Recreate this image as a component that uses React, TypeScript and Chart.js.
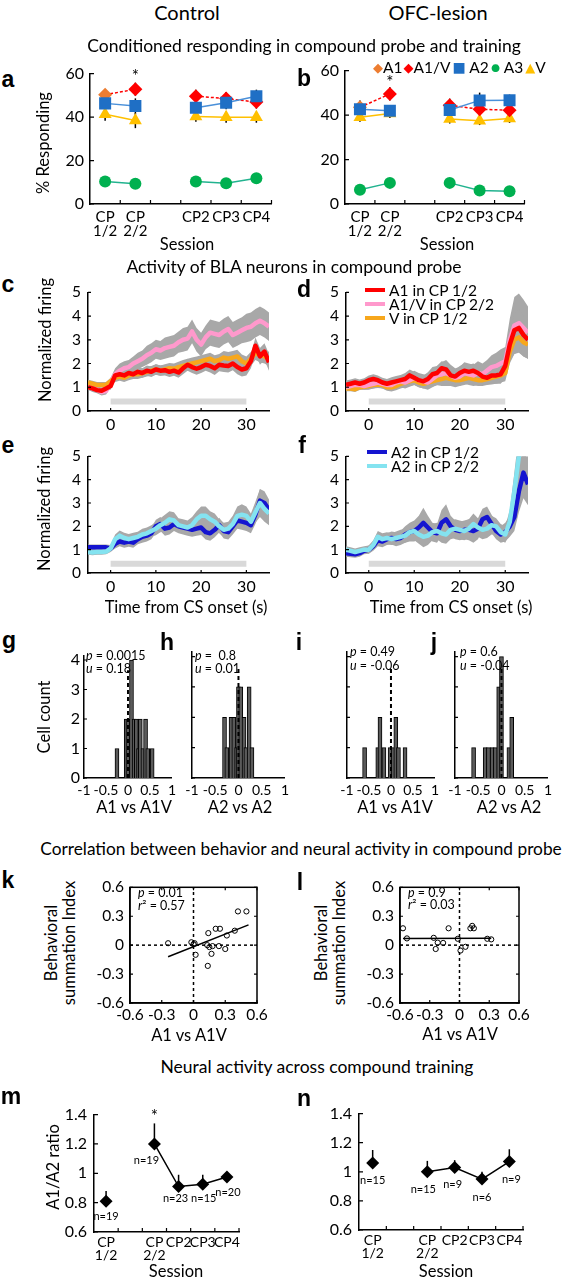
import React, { useEffect, useRef } from 'react';
import { Chart, registerables } from 'chart.js';

Chart.register(...registerables);

const FONT = 'Lato, "Open Sans", "DejaVu Sans", sans-serif';
const LETTER_FONT = '"Liberation Sans", Arial, sans-serif';

const RED = '#FF0000';
const ORANGE = '#ED7D31';
const BLUE = '#1F6FC5';
const BLUE_LINE = '#4A90D9';
const GREEN = '#00B050';
const GREEN_LINE = '#22B38F';
const YELLOW = '#FFC000';
const PINK = '#FF99CC';
const AMBER = '#F7A71C';
const NAVY = '#1515D0';
const CYAN = '#84E3F0';
const BAND = '#A8A8A8';

// ---------------- panels a / b : % responding ----------------
const sessionLabels = [['CP', '1/2'], ['CP', '2/2'], '', 'CP2', 'CP3', 'CP4'];
const respTicks = [0, 20, 40, 60];

const ctlA2 = [46.3, 45.1, null, 44.3, 46.6, 49.6];
const ctlA1V = [50.3, 52.8, null, 49.6, 48.5, 46.9]; // first value: A1 in CP 1/2
const ctlV = [41.3, 38.4, null, 40.3, 39.9, 39.9];
const ctlA3 = [10.4, 9.3, null, 10.4, 9.5, 11.8];
const ctlA2Sem = [3.5, 3.5, null, 3, 3, 3];
const ctlA1VSem = [2.5, 3, null, 3, 3, 3];
const ctlVSem = [3, 3.5, null, 2.5, 2.5, 2.5];
const ctlA3Sem = [1.5, 1.5, null, 1.5, 1.5, 1.5];
const ctlStar = 58.5;

const ofcA2 = [42.6, 41.9, null, 42.3, 46.6, 46.7];
const ofcA1V = [43.5, 49.5, null, 44.4, 42.6, 42.2];
const ofcV = [39, 40.7, null, 38.2, 37.5, 38.5];
const ofcA3 = [6.4, 9.5, null, 9.5, 6.1, 5.7];
const ofcA2Sem = [3, 2.5, null, 3, 3.5, 2.5];
const ofcA1VSem = [3, 3, null, 3, 3, 3];
const ofcVSem = [2, 2, null, 2, 2, 2];
const ofcA3Sem = [1.5, 1.5, null, 1.5, 1.5, 1.5];
const ofcStar = 54.5;

// ---------------- panels c-f : normalized firing ----------------
const time = [-5, -4, -3, -2, -1, 0, 1, 2, 3, 4, 5, 6, 7, 8, 9, 10, 11, 12, 13, 14, 15, 16, 17, 18, 19, 20, 21, 22, 23, 24, 25, 26, 27, 28, 29, 30, 31, 32, 33, 34, 35];
const timeTicks = [0, 10, 20, 30];
const firingTicks = [0, 1, 2, 3, 4, 5];
const csBar = [0, 30];
const csBarLevel = 0.4;

const cA1 = [1.0, 0.95, 0.88, 0.85, 0.95, 1.05, 1.5, 1.55, 1.5, 1.6,
  1.55, 1.65, 1.6, 1.7, 1.65, 1.75, 1.7, 1.72, 1.65, 1.7,
  1.62, 1.8, 1.95, 1.85, 1.78, 1.85, 1.95, 1.9, 1.8, 1.95,
  1.92, 1.9, 2.0, 1.85, 1.75, 1.8, 2.1, 2.75, 2.3, 2.5,
  2.05];
const cA1Sem = [0.12, 0.12, 0.12, 0.12, 0.12, 0.15, 0.2, 0.2, 0.2, 0.2,
  0.2, 0.2, 0.2, 0.22, 0.22, 0.22, 0.22, 0.22, 0.22, 0.22,
  0.22, 0.25, 0.25, 0.25, 0.25, 0.25, 0.25, 0.28, 0.28, 0.28,
  0.28, 0.28, 0.28, 0.3, 0.3, 0.3, 0.3, 0.35, 0.35, 0.35,
  0.35];
const cA1V = [1.05, 0.95, 0.9, 0.8, 0.85, 1.2, 1.55, 1.7, 1.8, 1.85,
  2.0, 2.1, 2.2, 2.35, 2.45, 2.6, 2.55, 2.65, 2.7, 2.75,
  2.9, 3.0, 3.05, 3.35, 3.0, 2.8, 3.1, 3.3, 3.25, 3.2,
  3.35, 3.45, 3.2, 3.3, 3.4, 3.5, 3.55, 3.7, 3.8, 3.7,
  3.55];
const cA1VSem = [0.15, 0.15, 0.15, 0.15, 0.15, 0.2, 0.25, 0.3, 0.3, 0.3,
  0.3, 0.35, 0.35, 0.4, 0.4, 0.4, 0.4, 0.45, 0.45, 0.45,
  0.45, 0.5, 0.5, 0.5, 0.5, 0.5, 0.5, 0.55, 0.55, 0.55,
  0.55, 0.55, 0.55, 0.55, 0.55, 0.6, 0.6, 0.6, 0.6, 0.6,
  0.6];
const cV = [1.2, 1.15, 1.1, 1.1, 1.1, 1.25, 1.4, 1.45, 1.4, 1.5,
  1.55, 1.55, 1.6, 1.65, 1.7, 1.75, 1.7, 1.75, 1.8, 1.78,
  1.85, 1.9, 1.95, 2.0, 2.05, 2.1, 2.15, 2.2, 2.1, 2.15,
  2.25, 2.2, 2.25, 2.3, 2.1, 2.0, 2.2, 2.45, 2.35, 2.3,
  2.2];
const cVSem = [0.12, 0.12, 0.12, 0.12, 0.12, 0.15, 0.18, 0.18, 0.18, 0.2,
  0.2, 0.2, 0.2, 0.2, 0.2, 0.22, 0.22, 0.22, 0.22, 0.22,
  0.22, 0.25, 0.25, 0.25, 0.25, 0.25, 0.25, 0.25, 0.25, 0.25,
  0.28, 0.28, 0.28, 0.28, 0.28, 0.3, 0.3, 0.3, 0.3, 0.3,
  0.3];

const dA1 = [1.1, 1.15, 1.2, 1.15, 1.2, 1.3, 1.35, 1.3, 1.2, 1.15,
  1.2, 1.25, 1.3, 1.35, 1.5, 1.4, 1.3, 1.25, 1.35, 1.55,
  1.6, 1.8, 1.75, 1.5, 1.45, 1.6, 1.7, 1.65, 1.7, 1.6,
  1.45, 1.4, 1.5, 1.5, 1.55, 1.9, 2.8, 3.4, 3.5, 3.2,
  3.0];
const dA1Sem = [0.18, 0.18, 0.18, 0.18, 0.18, 0.2, 0.2, 0.2, 0.2, 0.2,
  0.22, 0.22, 0.22, 0.25, 0.25, 0.25, 0.25, 0.25, 0.28, 0.3,
  0.3, 0.3, 0.3, 0.3, 0.3, 0.3, 0.3, 0.3, 0.3, 0.3,
  0.3, 0.3, 0.3, 0.35, 0.4, 0.5, 0.6, 0.7, 0.8, 0.8,
  0.8];
const dA1V = [1.0, 1.05, 1.1, 1.1, 1.05, 1.1, 1.15, 1.2, 1.15, 1.1,
  1.1, 1.2, 1.25, 1.2, 1.3, 1.4, 1.3, 1.25, 1.2, 1.35,
  1.5, 1.55, 1.6, 1.5, 1.4, 1.45, 1.6, 1.55, 1.5, 1.6,
  1.55, 1.7, 1.85, 1.9, 2.0, 2.1, 3.0, 3.6, 3.7, 3.5,
  3.3];
const dA1VSem = [0.15, 0.15, 0.15, 0.15, 0.15, 0.18, 0.2, 0.2, 0.2, 0.2,
  0.22, 0.22, 0.25, 0.25, 0.28, 0.3, 0.3, 0.3, 0.3, 0.35,
  0.4, 0.5, 0.55, 0.45, 0.4, 0.4, 0.45, 0.45, 0.45, 0.5,
  0.45, 0.45, 0.5, 0.55, 0.6, 0.6, 0.9, 1.2, 1.25, 1.2,
  1.1];
const dV = [0.95, 0.95, 0.92, 1.0, 1.02, 1.05, 1.1, 1.12, 1.1, 1.0,
  1.0, 1.05, 1.15, 1.2, 1.25, 1.3, 1.2, 1.15, 1.2, 1.25,
  1.3, 1.35, 1.4, 1.35, 1.3, 1.3, 1.35, 1.4, 1.35, 1.3,
  1.3, 1.35, 1.4, 1.45, 1.5, 1.6, 2.5, 3.0, 3.1, 2.9,
  2.8];
const dVSem = [0.12, 0.12, 0.12, 0.12, 0.12, 0.15, 0.15, 0.15, 0.15, 0.15,
  0.18, 0.18, 0.2, 0.2, 0.2, 0.2, 0.2, 0.2, 0.2, 0.22,
  0.22, 0.25, 0.25, 0.25, 0.25, 0.25, 0.25, 0.25, 0.25, 0.25,
  0.25, 0.25, 0.28, 0.3, 0.3, 0.35, 0.5, 0.6, 0.6, 0.6,
  0.6];

const eA2p1 = [1.1, 1.1, 1.1, 1.1, 1.1, 1.05, 1.25, 1.35, 1.3, 1.35,
  1.3, 1.45, 1.55, 1.6, 1.7, 2.0, 2.1, 1.9, 1.95, 2.1,
  2.0, 1.95, 1.9, 1.85, 1.9, 1.95, 1.75, 1.7, 1.85, 2.05,
  1.8, 1.75, 2.0, 2.25, 2.2, 2.15, 2.05, 2.5, 3.1, 3.0,
  2.7];
const eA2p1Sem = [0.12, 0.12, 0.12, 0.12, 0.12, 0.15, 0.2, 0.2, 0.22, 0.22,
  0.22, 0.22, 0.25, 0.25, 0.25, 0.28, 0.3, 0.3, 0.3, 0.3,
  0.3, 0.3, 0.3, 0.3, 0.3, 0.32, 0.32, 0.32, 0.32, 0.32,
  0.32, 0.32, 0.35, 0.35, 0.35, 0.35, 0.35, 0.4, 0.5, 0.5,
  0.45];
const eA2p2 = [0.9, 0.88, 0.9, 0.9, 0.92, 1.05, 1.45, 1.6, 1.5, 1.45,
  1.5, 1.55, 1.65, 1.7, 1.8, 1.9, 2.05, 2.15, 2.3, 2.25,
  2.05, 2.0, 1.95, 2.05, 2.3, 2.45, 2.45, 2.3, 2.2, 2.0,
  1.85, 1.9, 2.1, 2.45, 2.5, 2.45, 2.2, 2.6, 3.0, 2.75,
  2.55];
const eA2p2Sem = [0.12, 0.12, 0.12, 0.12, 0.12, 0.15, 0.2, 0.22, 0.22, 0.22,
  0.22, 0.22, 0.25, 0.25, 0.25, 0.28, 0.3, 0.35, 0.35, 0.35,
  0.3, 0.3, 0.3, 0.35, 0.35, 0.4, 0.4, 0.35, 0.35, 0.3,
  0.3, 0.3, 0.35, 0.4, 0.45, 0.4, 0.35, 0.45, 0.6, 0.55,
  0.5];

const fA2p1 = [0.85, 0.82, 0.8, 0.85, 0.95, 1.0, 1.15, 1.4, 1.35, 1.45,
  1.5, 1.45, 1.5, 1.65, 1.75, 1.8, 1.95, 2.15, 1.95, 1.75,
  1.7, 2.15, 2.3, 2.0, 1.85, 1.8, 1.85, 1.85, 1.8, 1.9,
  2.3, 2.4, 2.1, 1.8, 1.65, 1.75, 2.0, 2.4, 3.5, 4.3,
  3.8];
const fA2p1Sem = [0.15, 0.15, 0.15, 0.15, 0.15, 0.18, 0.2, 0.25, 0.25, 0.25,
  0.28, 0.3, 0.3, 0.35, 0.4, 0.45, 0.5, 0.65, 0.5, 0.4,
  0.4, 0.55, 0.65, 0.45, 0.4, 0.4, 0.4, 0.45, 0.5, 0.45,
  0.45, 0.45, 0.4, 0.35, 0.35, 0.4, 0.45, 0.6, 0.9, 1.1,
  0.9];
const fA2p2 = [1.0, 0.95, 0.9, 0.95, 1.0, 1.0, 1.2, 1.55, 1.45, 1.5,
  1.45, 1.5, 1.55, 1.6, 1.75, 1.8, 1.65, 1.55, 1.6, 1.75,
  1.8, 1.7, 1.65, 1.85, 1.9, 1.85, 1.8, 1.9, 2.1, 1.95,
  1.85, 1.9, 2.05, 2.0, 1.75, 1.65, 2.2, 3.5, 5.0, 5.5,
  5.5];
const fA2p2Sem = [0.15, 0.15, 0.15, 0.15, 0.15, 0.18, 0.2, 0.25, 0.25, 0.25,
  0.25, 0.28, 0.3, 0.3, 0.35, 0.4, 0.4, 0.45, 0.4, 0.35,
  0.35, 0.4, 0.4, 0.4, 0.4, 0.4, 0.4, 0.4, 0.45, 0.4,
  0.4, 0.4, 0.4, 0.35, 0.35, 0.35, 0.5, 0.8, 1.0, 1.0,
  1.0];

// ---------------- panels g-j : histograms ----------------
const histTicksX = [-1, -0.5, 0, 0.5, 1];
const histTicksY = [0, 1, 2, 3, 4];
const histMedianTop = 3.65;
const gBins = [-0.25, -0.04, 0.0, 0.08, 0.14, 0.19, 0.24, 0.28, 0.34, 0.4, 0.45, 0.55];
const gCounts = [1, 2, 2, 4, 2, 2, 1, 2, 1, 2, 1, 1];
const hBins = [-0.3, -0.25, -0.16, -0.1, -0.04, 0.0, 0.05, 0.12, 0.16, 0.23, 0.29];
const hCounts = [2, 1, 2, 2, 1, 3, 3, 2, 1, 3, 1];
const iBins = [-0.6, -0.3, -0.25, -0.16, -0.02, 0.05, 0.11, 0.17, 0.32];
const iCounts = [1, 1, 2, 1, 1, 1, 2, 1, 1];
const jBins = [-0.6, -0.35, -0.28, -0.2, -0.13, -0.06, 0.0, 0.16, 0.22];
const jCounts = [1, 1, 1, 1, 1, 3, 4, 1, 2];

// ---------------- panels k / l : scatter ----------------
const scatTicks = [-0.6, -0.3, 0, 0.3, 0.6];
const kX = [-0.24, -0.02, 0.0, 0.01, 0.02, 0.14, 0.13, 0.15, 0.18, 0.17, 0.135, 0.21, 0.25, 0.24, 0.3, 0.315, 0.39, 0.42, 0.5];
const kY = [0.02, 0.03, 0.01, 0.02, -0.1, 0.125, 0.0, -0.02, -0.01, -0.09, -0.215, 0.17, 0.17, -0.01, -0.04, 0.1, 0.15, 0.35, 0.35];
const kFitX = [-0.24, 0.52];
const kFitY = [-0.12, 0.21];
const lX = [-0.57, -0.53, -0.26, -0.24, -0.22, -0.165, -0.11, -0.017, 0.01, 0.06, 0.11, 0.128, 0.145, 0.28, 0.32];
const lY = [0.175, 0.07, 0.076, -0.04, 0.026, 0.023, 0.175, 0.066, -0.056, -0.017, 0.175, 0.2, 0.175, 0.066, 0.06];
const lFitX = [-0.57, 0.32];
const lFitY = [0.07, 0.072];

// ---------------- panels m / n : A1/A2 ratio ----------------
const ratioLabels = [['CP', '1/2'], '', ['CP', '2/2'], 'CP2', 'CP3', 'CP4'];
const ratioTicks = [0.6, 0.8, 1, 1.2, 1.4];
const mRatio = [0.81, null, 1.2, 0.91, 0.925, 0.975];
const mErr = [0.07, null, 0.14, 0.08, 0.065, 0.03];
const mN = ['n=19', '', 'n=19', 'n=23', 'n=15', 'n=20'];
const mStar = 1.385;
const nRatio = [1.06, null, 1.0, 1.03, 0.95, 1.07];
const nErr = [0.09, null, 0.075, 0.05, 0.05, 0.085];
const nN = ['n=15', '', 'n=15', 'n=9', 'n=6', 'n=9'];

// ---------------- plugins ----------------
const inTicks = {
  id: 'inTicks',
  afterDraw(chart: any, _a: any, opts: any) {
    if (!opts || !opts.on) return;
    const { ctx, chartArea: ca, scales } = chart;
    const len = opts.len || 4;
    ctx.save();
    ctx.strokeStyle = '#000';
    ctx.lineWidth = 1.2;
    ctx.beginPath();
    if (opts.x !== false) {
      const xs = scales.x;
      let xp: number[] = [];
      if (opts.between) {
        const n = xs.ticks.length;
        for (let i = 1; i <= n; i++) xp.push(ca.left + (i * (ca.right - ca.left)) / n);
      } else {
        xp = xs.ticks.map((_t: any, i: number) => xs.getPixelForTick(i));
      }
      xp.forEach((x) => {
        ctx.moveTo(x, ca.bottom);
        ctx.lineTo(x, ca.bottom - len);
        if (opts.frame) {
          ctx.moveTo(x, ca.top);
          ctx.lineTo(x, ca.top + len);
        }
      });
    }
    if (opts.y !== false) {
      const ys = scales.y;
      ys.ticks.forEach((_t: any, i: number) => {
        const y = ys.getPixelForTick(i);
        ctx.moveTo(ca.left, y);
        ctx.lineTo(ca.left + len, y);
        if (opts.frame) {
          ctx.moveTo(ca.right, y);
          ctx.lineTo(ca.right - len, y);
        }
      });
    }
    ctx.stroke();
    if (opts.frame) {
      ctx.lineWidth = 1.5;
      ctx.strokeRect(ca.left, ca.top, ca.right - ca.left, ca.bottom - ca.top);
    }
    ctx.restore();
  },
};

const errBars = {
  id: 'errBars',
  beforeDatasetsDraw(chart: any, _a: any, opts: any) {
    const items = (opts && opts.items) || [];
    const { ctx } = chart;
    const ys = chart.scales.y;
    ctx.save();
    ctx.strokeStyle = '#000';
    ctx.lineWidth = 1.5;
    items.forEach((it: any) => {
      const meta = chart.getDatasetMeta(it.ds);
      const vals = chart.data.datasets[it.ds].data;
      meta.data.forEach((pt: any, i: number) => {
        const v = vals[i];
        const e = it.sem[i];
        if (v == null || e == null) return;
        ctx.beginPath();
        ctx.moveTo(pt.x, ys.getPixelForValue(v + e));
        ctx.lineTo(pt.x, it.up ? pt.y : ys.getPixelForValue(v - e));
        ctx.stroke();
      });
    });
    ctx.restore();
  },
};

const dataText = {
  id: 'dataText',
  afterDatasetsDraw(chart: any, _a: any, opts: any) {
    const items = (opts && opts.items) || [];
    const { ctx } = chart;
    ctx.save();
    ctx.fillStyle = '#000';
    ctx.textAlign = 'center';
    ctx.textBaseline = 'middle';
    items.forEach((t: any) => {
      ctx.font = `${t.size || 12}px ${FONT}`;
      const x = chart.scales.x.getPixelForValue(t.x) + (t.dx || 0);
      const y = chart.scales.y.getPixelForValue(t.y) + (t.dy || 0);
      ctx.fillText(t.label, x, y);
    });
    ctx.restore();
  },
};

const fmt = (v: any) => String(+Number(v).toFixed(2));
const axisBorder = { display: true, color: '#000', width: 1.5 };
const noGrid = { display: false, drawTicks: false };
const fixedTicks = (vals: number[]) => (s: any) => {
  s.ticks = vals.map((v) => ({ value: v }));
};

// ---------------- config builders ----------------
function sessionConfig(p: any) {
  const a1Colors = [ORANGE, RED, RED, RED, RED, RED];
  return {
    type: 'line',
    data: {
      labels: sessionLabels,
      datasets: [
        { data: p.a2, borderColor: BLUE_LINE, borderWidth: 1.5, pointStyle: 'rect', pointRadius: 8.5, pointBackgroundColor: BLUE, pointBorderWidth: 0, spanGaps: false },
        { data: p.a1v, borderColor: RED, borderWidth: 1.5, borderDash: [3, 2], pointStyle: 'rectRot', pointRadius: 7, pointBackgroundColor: a1Colors, pointBorderWidth: 0, spanGaps: false },
        { data: p.v, borderColor: YELLOW, borderWidth: 1.5, pointStyle: 'triangle', pointRadius: 7.5, pointBackgroundColor: YELLOW, pointBorderWidth: 0, spanGaps: false },
        { data: p.a3, borderColor: GREEN_LINE, borderWidth: 1.5, pointStyle: 'circle', pointRadius: 6, pointBackgroundColor: GREEN, pointBorderWidth: 0, spanGaps: false },
      ],
    },
    options: {
      scales: {
        x: { type: 'category', offset: true, grid: { ...noGrid, offset: true }, border: axisBorder, ticks: { color: '#000', font: { family: FONT, size: 15, lineHeight: 0.95 }, padding: 6, autoSkip: false, maxRotation: 0 } },
        y: { min: 0, max: 60, afterBuildTicks: fixedTicks(respTicks), grid: noGrid, border: axisBorder, ticks: { color: '#000', font: { family: FONT, size: 16 }, padding: 6 } },
      },
      plugins: {
        inTicks: { on: true, between: true, len: 4 },
        errBars: { items: [
          { ds: 0, sem: p.a2Sem }, { ds: 1, sem: p.a1vSem }, { ds: 2, sem: p.vSem }, { ds: 3, sem: p.a3Sem },
        ] },
        dataText: { items: [{ x: 1, y: p.star, label: '*', size: 17 }] },
      },
    },
    plugins: [errBars, dataText, inTicks],
  };
}

function timeConfig(series: any[]) {
  const ds: any[] = [];
  series.forEach((s) => {
    ds.push({ data: time.map((t, i) => ({ x: t, y: s.mean[i] + s.sem[i] })), borderWidth: 0, pointRadius: 0, fill: '+1', backgroundColor: BAND, order: 3 });
    ds.push({ data: time.map((t, i) => ({ x: t, y: s.mean[i] - s.sem[i] })), borderWidth: 0, pointRadius: 0, fill: false, order: 3 });
  });
  series.forEach((s) => {
    ds.push({ data: time.map((t, i) => ({ x: t, y: s.mean[i] })), borderColor: s.color, borderWidth: 4.5, pointRadius: 0, fill: false, order: 1, borderJoinStyle: 'round' });
  });
  ds.push({ data: csBar.map((t) => ({ x: t, y: csBarLevel })), borderColor: '#D9D9D9', borderWidth: 6, pointRadius: 0, fill: false, order: 4, borderCapStyle: 'butt' });
  return {
    type: 'line',
    data: { datasets: ds },
    options: {
      scales: {
        x: { type: 'linear', min: -5, max: 35, afterBuildTicks: fixedTicks(timeTicks), grid: noGrid, border: axisBorder, ticks: { color: '#000', font: { family: FONT, size: 16 }, padding: 4, callback: fmt } },
        y: { min: 0, max: 5, afterBuildTicks: fixedTicks(firingTicks), grid: noGrid, border: axisBorder, ticks: { color: '#000', font: { family: FONT, size: 15.5 }, padding: 7 } },
      },
      plugins: { inTicks: { on: true, len: 3 } },
    },
    plugins: [inTicks],
  };
}

function histConfig(bins: number[], counts: number[], showY: boolean) {
  return {
    type: 'bar',
    data: {
      datasets: [
        { type: 'line', data: [{ x: 0, y: 0 }, { x: 0, y: histMedianTop }], borderColor: '#000', borderWidth: 2, borderDash: [4, 3], pointRadius: 0, order: 0 },
        { type: 'bar', data: bins.map((b, i) => ({ x: b, y: counts[i] })), backgroundColor: '#5A5A5A', borderColor: '#000', borderWidth: 1, barThickness: 4, order: 1 },
      ],
    },
    options: {
      scales: {
        x: { type: 'linear', min: -1, max: 1, offset: false, afterBuildTicks: fixedTicks(histTicksX), grid: noGrid, border: axisBorder, ticks: { color: '#000', font: { family: FONT, size: 14 }, padding: 4, autoSkip: false, maxRotation: 0, callback: fmt } },
        y: { min: 0, max: 4.15, afterBuildTicks: fixedTicks(histTicksY), grid: noGrid, border: axisBorder, ticks: { display: showY, color: '#000', font: { family: FONT, size: 16 }, padding: 4 } },
      },
      plugins: { inTicks: { on: true, x: false, len: 3 } },
    },
    plugins: [inTicks],
  };
}

function scatterConfig(xs: number[], ys: number[], fx: number[], fy: number[]) {
  return {
    type: 'scatter',
    data: {
      datasets: [
        { data: xs.map((x, i) => ({ x, y: ys[i] })), pointRadius: 2.6, pointBorderColor: '#000', pointBackgroundColor: 'rgba(255,255,255,0)', pointBorderWidth: 1, order: 0 },
        { type: 'line', data: fx.map((x, i) => ({ x, y: fy[i] })), borderColor: '#000', borderWidth: 1.5, pointRadius: 0, showLine: true, order: 1 },
        { type: 'line', data: [{ x: 0, y: scatTicks[0] }, { x: 0, y: scatTicks[4] }], borderColor: '#000', borderWidth: 1.5, borderDash: [3, 3], pointRadius: 0, showLine: true, order: 2 },
        { type: 'line', data: [{ x: scatTicks[0], y: 0 }, { x: scatTicks[4], y: 0 }], borderColor: '#000', borderWidth: 1.5, borderDash: [3, 3], pointRadius: 0, showLine: true, order: 2 },
      ],
    },
    options: {
      scales: {
        x: { type: 'linear', min: -0.6, max: 0.6, afterBuildTicks: fixedTicks(scatTicks), grid: noGrid, border: axisBorder, ticks: { color: '#000', font: { family: FONT, size: 15.5 }, padding: 3, autoSkip: false, maxRotation: 0, callback: fmt } },
        y: { min: -0.6, max: 0.6, afterBuildTicks: fixedTicks(scatTicks), grid: noGrid, border: axisBorder, ticks: { color: '#000', font: { family: FONT, size: 15.5 }, padding: 6, callback: fmt } },
      },
      plugins: { inTicks: { on: true, frame: true, len: 3 } },
    },
    plugins: [inTicks],
  };
}

function ratioConfig(vals: any[], errs: any[], notes: any[], star: number | null) {
  const items = notes.slice();
  if (star != null) items.push({ x: 2, y: star, label: '*', size: 17 });
  return {
    type: 'line',
    data: {
      labels: ratioLabels,
      datasets: [
        { data: vals, borderColor: '#000', borderWidth: 1.5, pointStyle: 'rectRot', pointRadius: 6.5, pointBackgroundColor: '#000', pointBorderWidth: 0, spanGaps: false },
      ],
    },
    options: {
      scales: {
        x: { type: 'category', offset: true, grid: { ...noGrid, offset: true }, border: axisBorder, ticks: { color: '#000', font: { family: FONT, size: 14, lineHeight: 0.95 }, padding: 4, autoSkip: false, maxRotation: 0 } },
        y: { min: 0.6, max: 1.4, afterBuildTicks: fixedTicks(ratioTicks), grid: noGrid, border: axisBorder, ticks: { color: '#000', font: { family: FONT, size: 16 }, padding: 7, callback: fmt } },
      },
      plugins: {
        inTicks: { on: true, between: true, len: 4 },
        errBars: { items: [{ ds: 0, sem: errs, up: true }] },
        dataText: { items },
      },
    },
    plugins: [errBars, dataText, inTicks],
  };
}

// ---------------- components ----------------
type Geo = { plot: number[]; l: number; t: number; r: number; b: number };

function ChartBox({ geo, make }: { geo: Geo; make: () => any }) {
  const ref = useRef<HTMLCanvasElement | null>(null);
  const [x1, y1, x2, y2] = geo.plot;
  const left = x1 - geo.l;
  const top = y1 - geo.t;
  const w = x2 - x1 + geo.l + geo.r;
  const h = y2 - y1 + geo.t + geo.b;
  useEffect(() => {
    const cfg = make();
    const o = cfg.options;
    o.responsive = false;
    o.maintainAspectRatio = false;
    o.animation = false;
    o.layout = { padding: { top: geo.t, right: geo.r, left: 0, bottom: 0 } };
    o.plugins = { legend: { display: false }, tooltip: { enabled: false }, ...(o.plugins || {}) };
    o.scales.x.afterFit = (s: any) => { s.height = geo.b; };
    o.scales.y.afterFit = (s: any) => { s.width = geo.l; };
    const chart = new Chart(ref.current as HTMLCanvasElement, cfg);
    return () => chart.destroy();
  }, []);
  return <canvas ref={ref} width={w} height={h} style={{ position: 'absolute', left, top, width: w, height: h }} />;
}

function T({ x, y, children, size = 16, anchor = 'c', rot = false, bold = false, family = FONT }: any) {
  const tx = anchor === 'l' ? '0' : '-50%';
  return (
    <div
      style={{
        position: 'absolute', left: x, top: y,
        transform: `translate(${tx},-50%)${rot ? ' rotate(-90deg)' : ''}`,
        fontFamily: family, fontSize: size, fontWeight: bold ? 700 : 400,
        whiteSpace: 'nowrap', lineHeight: 1.1, color: '#000', textAlign: 'center',
      }}
    >
      {children}
    </div>
  );
}

function LineKey({ x, y, color, label }: any) {
  return (
    <div style={{ position: 'absolute', left: x, top: y, transform: 'translateY(-50%)', display: 'flex', alignItems: 'center', fontFamily: FONT, fontSize: 15.5, whiteSpace: 'nowrap' }}>
      <div style={{ width: 20, height: 4, background: color, marginRight: 4 }} />
      <span>{label}</span>
    </div>
  );
}

export default function App() {
  const letters: any[] = [
    ['a', 8, 80], ['b', 304, 79], ['c', 8, 285], ['d', 304, 290], ['e', 8, 446], ['f', 302, 446],
    ['g', 9, 641], ['h', 167, 643], ['i', 299, 643], ['j', 434, 643], ['k', 8, 881], ['l', 300, 883], ['m', 11, 1097], ['n', 304, 1099],
  ];
  return (
    <div style={{ position: 'absolute', left: 0, top: 0, width: 570, height: 1280, background: '#fff', overflow: 'hidden' }}>
      <ChartBox geo={{ plot: [90, 70, 272, 204], l: 50, t: 12, r: 8, b: 40 }} make={() => sessionConfig({ a2: ctlA2, a1v: ctlA1V, v: ctlV, a3: ctlA3, a2Sem: ctlA2Sem, a1vSem: ctlA1VSem, vSem: ctlVSem, a3Sem: ctlA3Sem, star: ctlStar })} />
      <ChartBox geo={{ plot: [345, 67, 525, 204], l: 40, t: 12, r: 8, b: 40 }} make={() => sessionConfig({ a2: ofcA2, a1v: ofcA1V, v: ofcV, a3: ofcA3, a2Sem: ofcA2Sem, a1vSem: ofcA1VSem, vSem: ofcVSem, a3Sem: ofcA3Sem, star: ofcStar })} />

      <ChartBox geo={{ plot: [88, 288, 269, 411], l: 48, t: 12, r: 8, b: 24 }} make={() => timeConfig([
        { mean: cA1, sem: cA1Sem, color: RED }, { mean: cV, sem: cVSem, color: AMBER }, { mean: cA1V, sem: cA1VSem, color: PINK },
      ])} />
      <ChartBox geo={{ plot: [346, 288, 528, 411], l: 40, t: 12, r: 8, b: 24 }} make={() => timeConfig([
        { mean: dA1, sem: dA1Sem, color: RED }, { mean: dA1V, sem: dA1VSem, color: PINK }, { mean: dV, sem: dVSem, color: AMBER },
      ])} />
      <ChartBox geo={{ plot: [88, 452, 269, 573], l: 48, t: 12, r: 8, b: 26 }} make={() => timeConfig([
        { mean: eA2p2, sem: eA2p2Sem, color: CYAN }, { mean: eA2p1, sem: eA2p1Sem, color: NAVY },
      ])} />
      <ChartBox geo={{ plot: [346, 452, 528, 573], l: 40, t: 12, r: 8, b: 26 }} make={() => timeConfig([
        { mean: fA2p2, sem: fA2p2Sem, color: CYAN }, { mean: fA2p1, sem: fA2p1Sem, color: NAVY },
      ])} />

      <ChartBox geo={{ plot: [84, 652, 172, 778], l: 40, t: 10, r: 8, b: 24 }} make={() => histConfig(gBins, gCounts, true)} />
      <ChartBox geo={{ plot: [192, 652, 285, 778], l: 14, t: 10, r: 8, b: 24 }} make={() => histConfig(hBins, hCounts, false)} />
      <ChartBox geo={{ plot: [347, 652, 435, 778], l: 14, t: 10, r: 8, b: 24 }} make={() => histConfig(iBins, iCounts, false)} />
      <ChartBox geo={{ plot: [455, 652, 548, 778], l: 14, t: 10, r: 8, b: 24 }} make={() => histConfig(jBins, jCounts, false)} />

      <ChartBox geo={{ plot: [130, 882, 257, 1003], l: 45, t: 10, r: 14, b: 22 }} make={() => scatterConfig(kX, kY, kFitX, kFitY)} />
      <ChartBox geo={{ plot: [400, 882, 519, 1003], l: 45, t: 10, r: 14, b: 22 }} make={() => scatterConfig(lX, lY, lFitX, lFitY)} />

      <ChartBox geo={{ plot: [94, 1110, 239, 1232], l: 50, t: 12, r: 8, b: 34 }} make={() => ratioConfig(mRatio, mErr, [
        { x: 0, y: mRatio[0], dy: 15, label: mN[0], size: 11 },
        { x: 2, y: mRatio[2], dx: -8, dy: 17, label: mN[2], size: 11 },
        { x: 3, y: mRatio[3], dx: -3, dy: 12, label: mN[3], size: 11 },
        { x: 4, y: mRatio[4], dx: 1, dy: 14, label: mN[4], size: 11 },
        { x: 5, y: mRatio[5], dx: 1, dy: 15, label: mN[5], size: 11 },
      ], mStar)} />
      <ChartBox geo={{ plot: [359, 1109, 523, 1230], l: 50, t: 12, r: 8, b: 34 }} make={() => ratioConfig(nRatio, nErr, [
        { x: 0, y: nRatio[0], dy: 17, label: nN[0], size: 11 },
        { x: 2, y: nRatio[2], dx: -4, dy: 18, label: nN[2], size: 11 },
        { x: 3, y: nRatio[3], dx: -2, dy: 17, label: nN[3], size: 11 },
        { x: 4, y: nRatio[4], dx: 0, dy: 18, label: nN[4], size: 11 },
        { x: 5, y: nRatio[5], dx: 2, dy: 18, label: nN[5], size: 11 },
      ], null)} />

      {/* titles */}
      <T x={187} y={12} size={20}>Control</T>
      <T x={438} y={12} size={20}>OFC-lesion</T>
      <T x={304} y={46} size={17.5}>Conditioned responding in compound probe and training</T>
      <T x={187} y={244} size={16.5}>Session</T>
      <T x={447} y={244} size={16.5}>Session</T>
      <T x={294} y={267} size={17.5}>Activity of BLA neurons in compound probe</T>
      <T x={186} y={607} size={16.5}>Time from CS onset (s)</T>
      <T x={451} y={607} size={16.5}>Time from CS onset (s)</T>
      <T x={301} y={849} size={17.3}>Correlation between behavior and neural activity in compound probe</T>
      <T x={317} y={1067} size={17.5}>Neural activity across compound training</T>
      <T x={176} y={1271} size={16.5}>Session</T>
      <T x={446} y={1271} size={16.5}>Session</T>

      {/* axis titles */}
      <T x={43} y={143} size={16.5} rot>% Responding</T>
      <T x={45} y={340} size={16.5} rot>Normalized firing</T>
      <T x={44} y={509} size={16.5} rot>Normalized firing</T>
      <T x={44} y={717} size={16.5} rot>Cell count</T>
      <T x={60} y={943} size={16.5} rot>Behavioral<br />summation Index</T>
      <T x={330} y={943} size={16.5} rot>Behavioral<br />summation Index</T>
      <T x={53} y={1167} size={16.5} rot>A1/A2 ratio</T>
      <T x={134} y={807} size={16.5}>A1 vs A1V</T>
      <T x={240} y={807} size={16.5}>A2 vs A2</T>
      <T x={395} y={807} size={16.5}>A1 vs A1V</T>
      <T x={509} y={807} size={16.5}>A2 vs A2</T>
      <T x={189} y={1035} size={16.5}>A1 vs A1V</T>
      <T x={460} y={1034} size={16.5}>A1 vs A1V</T>

      {/* legends */}
      <div style={{ position: 'absolute', left: 373, top: 66, transform: 'translateY(-50%)', fontFamily: FONT, fontSize: 15.5, whiteSpace: 'nowrap', display: 'flex', alignItems: 'center' }}>
        <span style={{ color: ORANGE, fontSize: 13 }}>◆</span><span>A1</span>
        <span style={{ color: RED, fontSize: 13, marginLeft: 1 }}>◆</span><span>A1/V</span>
        <span style={{ color: BLUE, fontSize: 14, marginLeft: 2 }}>■</span><span>&nbsp;A2</span>
        <span style={{ color: GREEN, fontSize: 16, marginLeft: 2 }}>●</span><span>&nbsp;A3</span>
        <span style={{ color: YELLOW, fontSize: 13, marginLeft: 2 }}>▲</span><span>V</span>
      </div>
      <LineKey x={365} y={290} color={RED} label="A1 in CP 1/2" />
      <LineKey x={365} y={304} color={PINK} label="A1/V in CP 2/2" />
      <LineKey x={365} y={318} color={AMBER} label="V in CP 1/2" />
      <LineKey x={367} y={452} color={NAVY} label="A2 in CP 1/2" />
      <LineKey x={367} y={466} color={CYAN} label="A2 in CP 2/2" />

      {/* statistics */}
      <T x={86} y={656} size={12.5} anchor="l"><i>p</i> = 0.0015</T>
      <T x={86} y={669} size={12.5} anchor="l"><i>u</i> = 0.18</T>
      <T x={195} y={656} size={12.5} anchor="l"><i>p</i> =&nbsp;&nbsp;0.8</T>
      <T x={195} y={669} size={12.5} anchor="l"><i>u</i> = 0.01</T>
      <T x={350} y={652} size={12.5} anchor="l"><i>p</i> = 0.49</T>
      <T x={350} y={666} size={12.5} anchor="l"><i>u</i> = -0.06</T>
      <T x={460} y={652} size={12.5} anchor="l"><i>p</i> = 0.6</T>
      <T x={460} y={666} size={12.5} anchor="l"><i>u</i> = -0.04</T>
      <T x={138} y={893} size={12.5} anchor="l"><i>p</i> = 0.01</T>
      <T x={138} y={906} size={12.5} anchor="l"><i>r</i>² = 0.57</T>
      <T x={408} y={893} size={12.5} anchor="l"><i>p</i> = 0.9</T>
      <T x={408} y={905} size={12.5} anchor="l"><i>r</i>² = 0.03</T>

      {letters.map(([c, x, y]) => (
        <T key={c} x={x} y={y} size={23} bold family={LETTER_FONT}>{c}</T>
      ))}
    </div>
  );
}
